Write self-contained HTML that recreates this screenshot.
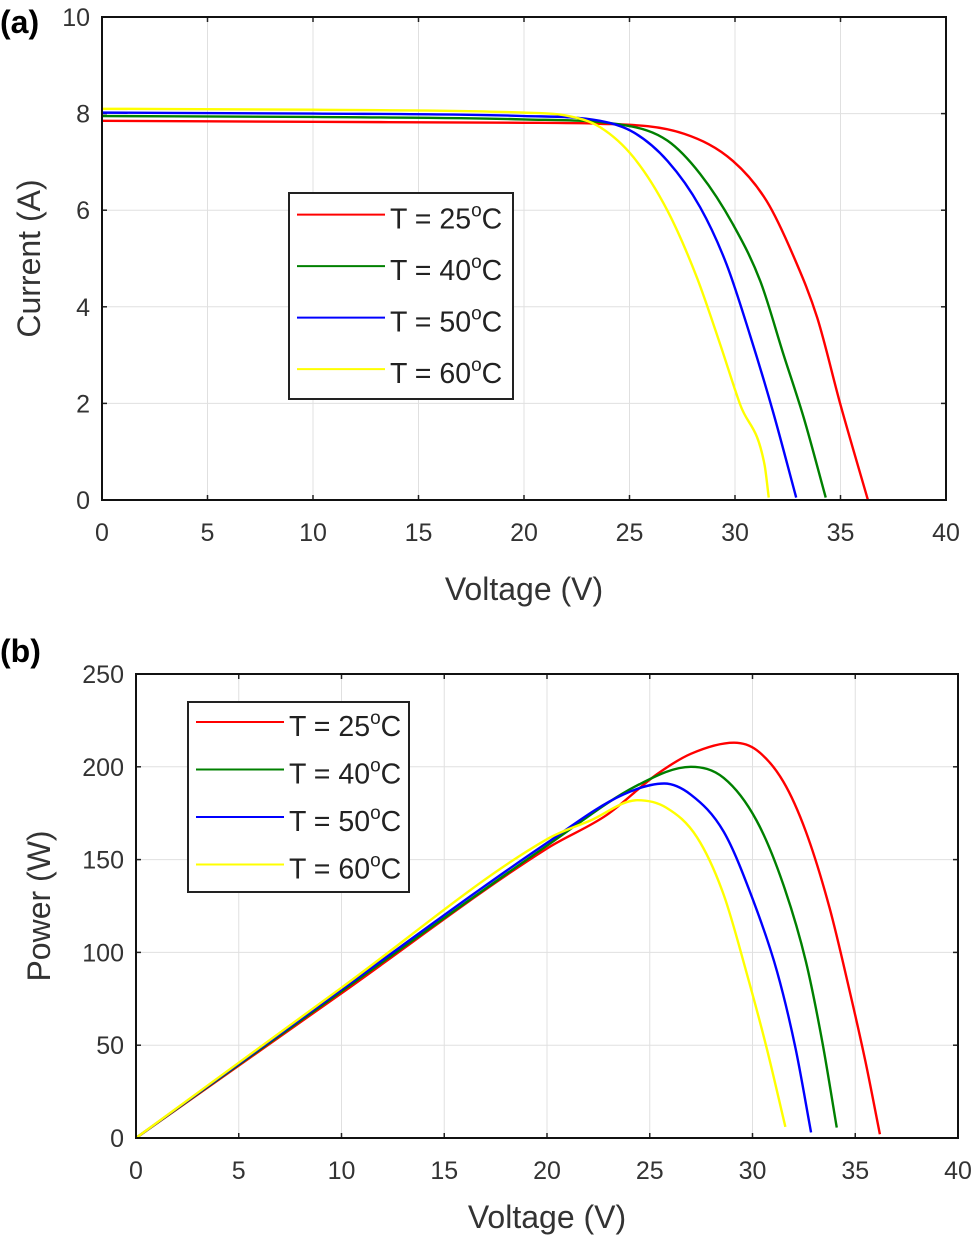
<!DOCTYPE html>
<html><head><meta charset="utf-8"><style>
body{margin:0;background:#fff;width:975px;height:1241px;overflow:hidden}
svg{font-family:"Liberation Sans",sans-serif}
</style></head><body>
<svg id="fig" width="975" height="1241">
<text x="0" y="33" font-size="32" font-weight="bold" fill="#000">(a)</text>
<text x="0" y="662" font-size="32" font-weight="bold" fill="#000">(b)</text>
</svg>
<script>
const seriesNames=["T = 25","T = 40","T = 50","T = 60"];
const colors=["#ff0000","#008000","#0000ff","#ffff00"];
const xTicks=[0,5,10,15,20,25,30,35,40];
const yTicksA=[0,2,4,6,8,10];
const yTicksB=[0,50,100,150,200,250];
const ivV25=[0,10,20,23.6,27.6,29.9,31.5,32.8,33.9,35.0,36.3];
const ivI25=[7.85,7.83,7.81,7.79,7.58,7.02,6.19,5.02,3.77,1.97,0];
const ivV40=[0,10,20,24.9,26.8,28.35,29.9,31.2,32.3,33.26,34.3];
const ivI40=[7.95,7.93,7.88,7.75,7.44,6.75,5.71,4.53,3.01,1.70,0.05];
const ivV50=[0,10,20,23.6,25.2,26.8,28.35,29.6,30.7,31.8,32.9];
const ivI50=[8.02,8.0,7.95,7.85,7.61,7.02,6.06,4.88,3.43,1.83,0.05];
const ivV60=[0,10,20,22.0,23.6,25.2,26.8,28.2,29.3,30.25,31.4,31.6];
const ivI60=[8.1,8.08,8.02,7.96,7.72,7.09,5.99,4.60,3.22,1.97,0.73,0.05];
const pvV25=[0,10,20,22.9,25.35,27,29.1,30.2,31.5,32.6,33.75,34.7,35.5,36.2];
const pvP25=[0,78,156,174,196,207,213,209,192,165,124,80.5,41,2];
const pvV40=[0,10,20,24.5,27,28.6,30.2,31.5,32.6,33.4,34.1];
const pvP40=[0,79,157.5,190.6,200,194,171,136.5,95,51.6,5.6];
const pvV50=[0,10,20,23.7,25.7,27,28.6,30.0,31.2,32.1,32.85];
const pvP50=[0,80,159,185,191,185,165,129,89.5,48,3];
const pvV60=[0,10,20,22.1,24.4,25.8,27.3,28.6,29.7,30.7,31.6];
const pvP60=[0,81,161,171,182,178,162,131,89.5,48,6];

const NS="http://www.w3.org/2000/svg";
const svg=document.getElementById("fig");
function mk(tag,attrs,parent){const e=document.createElementNS(NS,tag);for(const k in attrs)e.setAttribute(k,attrs[k]);(parent||svg).appendChild(e);return e;}
// monotone cubic (Fritsch-Carlson) in screen space
function smooth(p){const n=p.length;const d=[],m=[];
  for(let i=0;i<n-1;i++)d.push((p[i+1][1]-p[i][1])/(p[i+1][0]-p[i][0]));
  m[0]=d[0];m[n-1]=d[n-2];
  for(let i=1;i<n-1;i++){m[i]=(d[i-1]*d[i]<=0)?0:(d[i-1]+d[i])/2;}
  for(let i=0;i<n-1;i++){if(d[i]===0){m[i]=0;m[i+1]=0;continue;}const a=m[i]/d[i],b=m[i+1]/d[i],s=a*a+b*b;if(s>9){const t=3/Math.sqrt(s);m[i]=t*a*d[i];m[i+1]=t*b*d[i];}}
  let s="M"+p[0][0]+","+p[0][1];
  for(let i=0;i<n-1;i++){const h=(p[i+1][0]-p[i][0])/3;s+=" C"+(p[i][0]+h)+","+(p[i][1]+m[i]*h)+" "+(p[i+1][0]-h)+","+(p[i+1][1]-m[i+1]*h)+" "+p[i+1][0]+","+p[i+1][1];}
  return s;}

function panel(id,L,R,T,B,yMax,yTicks,xs,ys,yLabel,leg,xLabY,yLabX){
  const g=mk("g",{});
  
  
  const sx=v=>L+(R-L)*v/40, sy=v=>B-(B-T)*v/yMax;
  xTicks.forEach(t=>{const x=sx(t);
    const gl=mk("line",{x1:x,x2:x,y1:T,y2:B,stroke:"#e0e0e0","stroke-width":1},g);
    
    mk("line",{x1:x,x2:x,y1:B,y2:B-5,stroke:"#222","stroke-width":1.5},g);
    mk("line",{x1:x,x2:x,y1:T,y2:T+5,stroke:"#222","stroke-width":1.5},g);
    const tx=mk("text",{x:x,y:B+41,"font-size":25,fill:"#333","text-anchor":"middle"},g);tx.textContent=t;
    });
  yTicks.forEach(t=>{const y=sy(t);
    const gl=mk("line",{x1:L,x2:R,y1:y,y2:y,stroke:"#e0e0e0","stroke-width":1},g);
    
    mk("line",{x1:L,x2:L+5,y1:y,y2:y,stroke:"#222","stroke-width":1.5},g);
    mk("line",{x1:R,x2:R-5,y1:y,y2:y,stroke:"#222","stroke-width":1.5},g);
    const tx=mk("text",{x:L-12,y:y+9,"font-size":25,fill:"#333","text-anchor":"end"},g);tx.textContent=t;
    });
  for(let s=0;s<4;s++){
    const pts=xs[s].map((v,i)=>[sx(v),sy(ys[s][i])]);
    const p=mk("path",{d:smooth(pts),fill:"none",stroke:colors[s],"stroke-width":2.4},g);
    
  }
  const fr=mk("rect",{x:L,y:T,width:R-L,height:B-T,fill:"none",stroke:"#111","stroke-width":2},g);
  
  const xl=mk("text",{x:(L+R)/2,y:xLabY,"font-size":32,fill:"#333","text-anchor":"middle"},g);xl.textContent="Voltage (V)";
  
  const cy=(T+B)/2;
  const yl=mk("text",{x:yLabX,y:cy,"font-size":32,fill:"#333","text-anchor":"middle",transform:"rotate(-90 "+yLabX+" "+cy+")"},g);yl.textContent=yLabel;
  
  const lg=mk("g",{},g);
  
  mk("rect",{x:leg[0],y:leg[1],width:leg[2],height:leg[3],fill:"#fff",stroke:"#222","stroke-width":2},lg);
  const step=leg[3]/4;
  for(let s=0;s<4;s++){
    const y=leg[1]+step*(s+0.42);
    const ln=mk("line",{x1:leg[0]+8,x2:leg[0]+96,y1:y,y2:y,stroke:colors[s],"stroke-width":2},lg);
    
    const t=mk("text",{x:leg[0]+101,y:y+14,"font-size":28.5,fill:"#222"},lg);
    
    t.appendChild(document.createTextNode(seriesNames[s]));
    const sup=document.createElementNS(NS,"tspan");sup.setAttribute("dy","-12");sup.setAttribute("font-size","19");sup.textContent="o";t.appendChild(sup);
    const c=document.createElementNS(NS,"tspan");c.setAttribute("dy","12");c.textContent="C";t.appendChild(c);
  }
}
panel("iv",102,946,17,500,10,yTicksA,[ivV25,ivV40,ivV50,ivV60],[ivI25,ivI40,ivI50,ivI60],"Current (A)",[289,193,224,206],600,40);
panel("pv",136,958,674,1138,250,yTicksB,[pvV25,pvV40,pvV50,pvV60],[pvP25,pvP40,pvP50,pvP60],"Power (W)",[188,702,221,190],1228,50);
</script>
</body></html>
